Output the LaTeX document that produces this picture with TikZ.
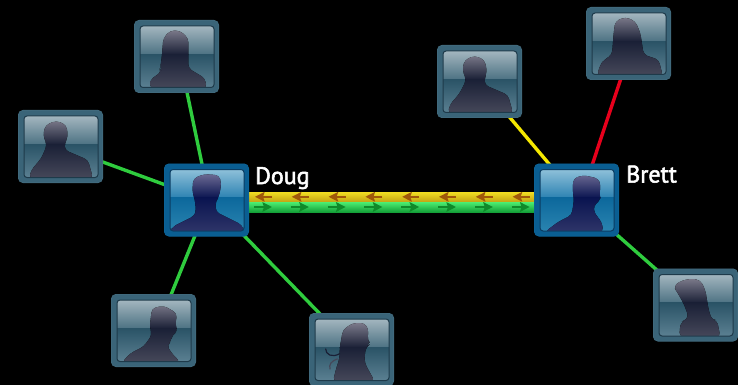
\documentclass[tikz,border=0pt]{standalone}
\usepackage{fontspec}
\setmainfont{PT Sans}
\newfontfamily\labelfont{PT Sans}[FakeBold=2.2]
\usetikzlibrary{arrows.meta}
\definecolor{actframe}{HTML}{0A5E92}
\definecolor{actedge}{HTML}{0C6296}
\definecolor{actupa}{HTML}{8EC0D9}
\definecolor{actupb}{HTML}{2C82B2}
\definecolor{actdna}{HTML}{0C689C}
\definecolor{actdnb}{HTML}{2A84B0}
\definecolor{actsila}{HTML}{716F97}
\definecolor{actsilb}{HTML}{0A1450}
\definecolor{actsilc}{HTML}{2D3468}
\definecolor{actline}{HTML}{0B3D63}
\definecolor{dimframe}{HTML}{3A6478}
\definecolor{dimedge}{HTML}{40697C}
\definecolor{dimupa}{HTML}{A3B6BF}
\definecolor{dimupb}{HTML}{4D7283}
\definecolor{dimdna}{HTML}{2A5366}
\definecolor{dimdnb}{HTML}{5B8092}
\definecolor{dimsila}{HTML}{7F7D8D}
\definecolor{dimsilb}{HTML}{1A2036}
\definecolor{dimsilc}{HTML}{454759}
\definecolor{dimline}{HTML}{1E3A4A}
\definecolor{lgreen}{HTML}{2FCC3E}
\definecolor{lyellow}{HTML}{F5E800}
\definecolor{lred}{HTML}{E8001C}
\definecolor{yarrow}{HTML}{A0580A}
\definecolor{garrow}{HTML}{0F8A2A}
\definecolor{bandya}{HTML}{F2DE22}
\definecolor{bandyb}{HTML}{C2A414}
\definecolor{bandga}{HTML}{4CEE72}
\definecolor{bandgb}{HTML}{14A038}
\tikzset{
  link/.style={line width=3.4pt},
  personbox/.style={draw=#1edge,fill=#1frame,line width=.8pt,rounded corners=4.5pt,
    minimum width=84.2pt,minimum height=72.2pt,inner sep=0pt},
  namelabel/.style={text=white,font=\labelfont\fontsize{24}{28}\selectfont,anchor=base west,inner sep=0pt},
  bandarrow/.style={line width=2.2pt,-{Stealth[length=9.5pt,width=9.5pt,inset=1.5pt]}}
}
\newcommand\person[4]{%
  \node[personbox=#3] (#1) at (#2) {};
  \begin{scope}[shift={(#1.north west)}]
    \begin{scope}
      \path[clip,rounded corners=3pt] (6,6) rectangle (80,67.5);
      \fill[top color=#3upa,bottom color=#3upb] (6,6) rectangle (80,34.3);
      \fill[top color=#3dna,bottom color=#3dnb] (6,34.3) rectangle (80,67.5);
      \begin{scope}[x=0.3333pt,y=-0.3333pt]
        \path[clip,rounded corners=4pt] #4 -- cycle;
        \fill[top color=#3sila,bottom color=#3silb] (18,27) rectangle (240,103.5);
        \fill[top color=#3silb,bottom color=#3silc] (18,102.9) rectangle (240,202.5);
      \end{scope}
    \end{scope}
    \draw[#3line,line width=1pt,rounded corners=3pt] (6,6) rectangle (80,67.5);
  \end{scope}}
\begin{document}
\begin{tikzpicture}[x=1pt,y=-1pt]
\useasboundingbox (0,0) rectangle (738,385);
\fill[black] (0,0) rectangle (738,385);
\coordinate (cdoug) at (206.5,200);
\coordinate (cbrett) at (576.5,200);
\coordinate (ctop) at (176.5,56.5);
\coordinate (cleft) at (60.5,146.5);
\coordinate (cbl) at (153.5,330.5);
\coordinate (cbot) at (351.5,349.5);
\coordinate (cmid) at (479.5,81.5);
\coordinate (cup) at (628.5,43.5);
\coordinate (cbr) at (695.5,305);
\draw[link,lgreen] ([xshift=3pt]cdoug) -- ([xshift=3pt]ctop);
\draw[link,lgreen] (cdoug) -- (cleft);
\draw[link,lgreen] ([xshift=3pt]cdoug) -- ([xshift=3pt]cbl);
\draw[link,lgreen] ([xshift=3pt]cdoug) -- ([xshift=3pt]cbot);
\draw[link,lyellow] ([xshift=3pt]cbrett) -- (cmid);
\draw[link,lred] ([xshift=4pt]cbrett) -- ([xshift=4pt]cup);
\draw[link,lgreen] ([xshift=1pt]cbrett) -- ([xshift=1pt]cbr);
% bands
\fill[top color=bandya,bottom color=bandyb]
  ([yshift=8pt]cdoug) rectangle ([yshift=-1.8pt]cbrett);
\fill[top color=bandga,bottom color=bandgb]
  ([yshift=-2pt]cdoug) rectangle ([yshift=-12pt]cbrett);
\foreach \k in {0,...,7}{
  \draw[bandarrow,yarrow] (272+36.8*\k,196.8) -- (255+36.8*\k,196.8);
  \draw[bandarrow,garrow] (254+36.8*\k,207) -- (272+36.8*\k,207);
}
\person{doug}{206.5,200}{act}{(20,205) -- (25,190) -- (90,158) -- (96,145) -- (93,110) -- (85,85) -- (88,45) -- (120,32) -- (165,35) -- (172,60) -- (165,100) -- (155,112) -- (155,145) -- (235,185) -- (240,205)}
\person{brett}{576.5,200}{act}{(33,205) -- (73,175) -- (113,155) -- (120,110) -- (116,80) -- (118,45) -- (148,35) -- (193,45) -- (200,65) -- (196,95) -- (201,110) -- (183,120) -- (178,140) -- (186,155) -- (203,175) -- (208,205)}
\person{top}{176.5,56.5}{dim}{(48,205) -- (48,180) -- (83,155) -- (78,147) -- (83,115) -- (88,55) -- (108,32) -- (138,32) -- (163,55) -- (163,120) -- (163,145) -- (213,175) -- (218,205)}
\person{left}{60.5,146.5}{dim}{(33,205) -- (40,180) -- (70,145) -- (87,105) -- (75,75) -- (83,45) -- (115,32) -- (145,45) -- (150,80) -- (140,100) -- (140,120) -- (210,150) -- (225,205)}
\person{bl}{153.5,330.5}{dim}{(33,205) -- (58,178) -- (98,158) -- (123,123) -- (116,98) -- (123,43) -- (158,35) -- (198,58) -- (193,93) -- (200,113) -- (183,123) -- (180,143) -- (168,153) -- (178,173) -- (208,205)}
\person{bot}{351.5,349.5}{dim}{(72,205) -- (82,165) -- (92,135) -- (92,105) -- (102,50) -- (132,30) -- (167,30) -- (179,50) -- (175,80) -- (184,93) -- (172,100) -- (167,125) -- (167,150) -- (197,205)}
\begin{scope}[shift={(bot.north west)},x=0.3333pt,y=-0.3333pt]
  \draw[dimsilb,line width=1.2pt,line cap=round] (92,122) .. controls (70,135) and (50,125) .. (50,108);
  \draw[dimsilc,line width=1.2pt,line cap=round] (85,138) .. controls (65,145) and (60,155) .. (63,168);
\end{scope}
\person{mid}{479.5,81.5}{dim}{(33,205) -- (38,180) -- (68,145) -- (88,105) -- (76,75) -- (83,45) -- (113,32) -- (143,45) -- (150,80) -- (143,100) -- (143,120) -- (213,150) -- (228,205)}
\person{up}{628.5,43.5}{dim}{(33,205) -- (43,173) -- (53,160) -- (78,143) -- (83,78) -- (88,43) -- (118,30) -- (148,43) -- (163,78) -- (173,143) -- (218,158) -- (230,205)}
\person{br}{695.5,305}{dim}{(80,205) -- (80,180) -- (85,160) -- (97,155) -- (107,145) -- (92,105) -- (72,70) -- (62,55) -- (77,40) -- (112,30) -- (142,35) -- (157,65) -- (167,125) -- (177,155) -- (192,155) -- (202,205)}
\node[namelabel] (dougname) at (255,184) {Doug};
\node[namelabel] (brettname) at (626,182.5) {Brett};
\end{tikzpicture}
\end{document}
